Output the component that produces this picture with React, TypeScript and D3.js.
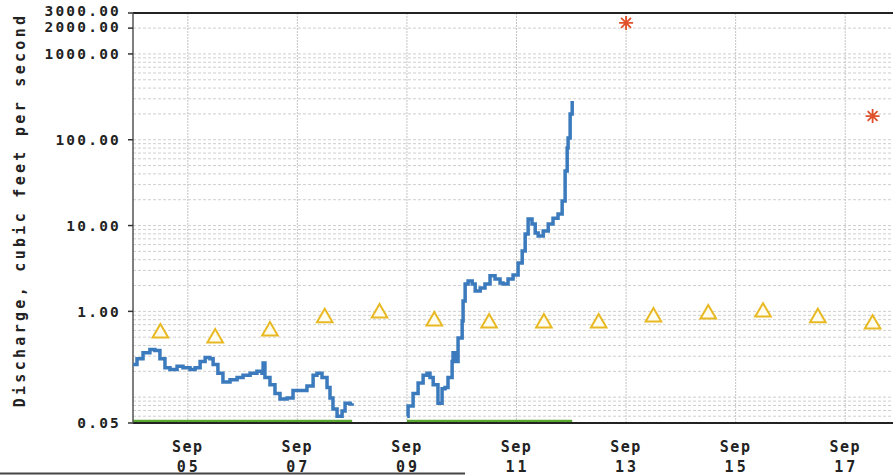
import React from "react";
import * as d3 from "d3";

// ---- data (hours since Sep 04 00:00) ----
const START = Date.UTC(2024, 8, 4);

const flowHours1 = [0, 1.75, 4.4, 7.4, 9.6, 11.8, 14, 16.2, 19.3, 21.9, 25, 27.2, 29.4, 31.6, 33.7, 35.1, 37.2, 39.4, 42.5, 45.6, 48.2, 51.3, 54.3, 56.5, 57, 57.8, 60, 62.2, 64.4, 67.5, 70.1, 73.2, 76.2, 78.9, 80.6, 82.8, 85, 86.3, 87.6, 89.4, 91.6, 92.9, 95.1, 96];
const flowValues1 = [0.24, 0.28, 0.33, 0.36, 0.35, 0.28, 0.22, 0.21, 0.23, 0.22, 0.21, 0.22, 0.26, 0.29, 0.28, 0.24, 0.19, 0.15, 0.16, 0.17, 0.18, 0.19, 0.2, 0.19, 0.25, 0.17, 0.14, 0.11, 0.095, 0.098, 0.12, 0.12, 0.135, 0.18, 0.19, 0.17, 0.13, 0.098, 0.073, 0.06, 0.069, 0.085, 0.083, 0.085];

const flowHours2 = [120.1, 120.5, 122.7, 124.9, 127.1, 128.8, 130.1, 131.5, 133.6, 135.4, 136.7, 138, 139.8, 140.2, 141.1, 142.4, 144.2, 144.6, 145.5, 146.8, 148.6, 149.9, 152.1, 154.2, 156.4, 158.6, 160.8, 162.1, 164.3, 166.5, 168.7, 170.5, 171.8, 173.1, 174.8, 176.2, 177.5, 179.7, 181.9, 184, 186.2, 188, 189.3, 190.2, 190.6, 191.5, 192.4];
const flowValues2 = [0.06, 0.079, 0.11, 0.146, 0.18, 0.19, 0.17, 0.14, 0.085, 0.125, 0.13, 0.17, 0.26, 0.33, 0.26, 0.49, 0.77, 1.32, 2.08, 2.26, 2.08, 1.73, 1.87, 2.08, 2.6, 2.38, 2.14, 2.08, 2.38, 2.65, 3.66, 5.05, 7.97, 11.9, 10.4, 8.19, 7.55, 8.64, 10.4, 12.2, 13.6, 19.3, 43.2, 80.1, 105, 200, 283];

const medianHours = [12, 36, 60, 84, 108, 132, 156, 180, 204, 228, 252, 276, 300, 324];
const medianValues = [0.56, 0.49, 0.59, 0.84, 0.96, 0.77, 0.73, 0.73, 0.73, 0.86, 0.93, 0.98, 0.84, 0.71];

const peakHours = [216, 324];
const peakValues = [2300, 189];

const approvedStart = [0, 120];
const approvedEnd = [96, 192.4];
const approvedLevel = 0.052;

const yTickValues = [0.05, 1, 10, 100, 1000, 2000, 3000];
const xTickDays = [5, 7, 9, 11, 13, 15, 17];

// ---- layout ----
const W = 893;
const H = 476;
const left = 133;
const top = 13;
const bottom = 423;
const right = 900;

const toDate = (h: number) => new Date(START + h * 3600e3);

export default function App() {
  const x = d3
    .scaleUtc()
    .domain([toDate(0), toDate(14 * 24)])
    .range([left, right]);
  const y = d3.scaleLog().domain([0.05, 3000]).range([bottom, top]);

  const line = d3
    .line<[number, number]>()
    .x((d) => x(toDate(d[0])))
    .y((d) => y(d[1]))
    .curve(d3.curveStepAfter);

  const seg1 = flowHours1.map((h, i) => [h, flowValues1[i]] as [number, number]);
  const seg2 = flowHours2.map((h, i) => [h, flowValues2[i]] as [number, number]);

  // minor log grid
  const grid: number[] = [];
  for (let e = -2; e <= 3; e++) {
    for (let m = 1; m <= 9; m++) {
      const v = m * Math.pow(10, e);
      if (v > 0.05 && v <= 3000) grid.push(v);
    }
  }

  const xTicks = xTickDays.map((d) => new Date(Date.UTC(2024, 8, d)));
  const fmtMon = d3.utcFormat("%b");
  const fmtDay = d3.utcFormat("%d");
  const fmtY = d3.format(".2f");

  const tri = d3.symbol(d3.symbolTriangle, 105)();

  const asterisk = (cx: number, cy: number, r: number) => {
    const p = d3.path();
    for (let k = 0; k < 4; k++) {
      const a = (k * Math.PI) / 4;
      p.moveTo(cx - r * Math.cos(a), cy - r * Math.sin(a));
      p.lineTo(cx + r * Math.cos(a), cy + r * Math.sin(a));
    }
    return p.toString();
  };

  const mono = "'DejaVu Sans Mono', monospace";
  // small nudges so the two crowded top labels do not collide
  const labelShift = (v: number) => (v === 3000 ? -2 : v === 2000 ? -1 : 0);

  return (
    <svg
      width={W}
      height={H}
      style={{ position: "absolute", left: 0, top: 0, background: "#fff" }}
    >
      <rect x={0} y={0} width={W} height={H} fill="#fff" />
      {/* horizontal grid */}
      {grid.map((v) => (
        <line
          key={"h" + v}
          x1={left}
          x2={right}
          y1={y(v)}
          y2={y(v)}
          stroke="#cfcfcf"
          strokeWidth={1}
          strokeDasharray="3,2"
        />
      ))}
      {/* vertical grid */}
      {xTicks.map((t) => (
        <line
          key={"v" + t.getTime()}
          x1={x(t)}
          x2={x(t)}
          y1={top}
          y2={bottom}
          stroke="#c4c4c4"
          strokeWidth={1}
          strokeDasharray="2,1"
        />
      ))}

      {/* approved bars */}
      {approvedStart.map((s, i) => (
        <line
          key={"g" + i}
          x1={x(toDate(s))}
          x2={x(toDate(approvedEnd[i]))}
          y1={y(approvedLevel)}
          y2={y(approvedLevel)}
          stroke="#5aa832"
          strokeWidth={3.5}
        />
      ))}

      {/* frame */}
      <line x1={left} x2={right} y1={top} y2={top} stroke="#222" strokeWidth={2} />
      <line x1={left} x2={right} y1={bottom} y2={bottom} stroke="#222" strokeWidth={2} />
      <line x1={left} x2={left} y1={top} y2={bottom} stroke="#555" strokeWidth={1.5} />

      {/* flow */}
      <path d={line(seg1) || ""} fill="none" stroke="#3b7bbd" strokeWidth={3.5} strokeLinejoin="miter" />
      <path d={line(seg2) || ""} fill="none" stroke="#3b7bbd" strokeWidth={3.5} strokeLinejoin="miter" />

      {/* medians */}
      {medianHours.map((h, i) => (
        <path
          key={"m" + h}
          d={tri || ""}
          transform={`translate(${x(toDate(h))},${y(medianValues[i])})`}
          fill="#fffdf0"
          stroke="#e8b923"
          strokeWidth={2}
        />
      ))}

      {/* peaks */}
      {peakHours.map((h, i) => (
        <path
          key={"p" + h}
          d={asterisk(x(toDate(h)), y(peakValues[i]), 7)}
          stroke="#e0502a"
          strokeWidth={1.8}
          fill="none"
        />
      ))}

      {/* y ticks */}
      {yTickValues.map((v) => (
        <g key={"yt" + v}>
          <line x1={left - 5} x2={left} y1={y(v)} y2={y(v)} stroke="#333" strokeWidth={1.5} />
          <text
            x={121}
            y={y(v) + labelShift(v)}
            dy="0.36em"
            textAnchor="end"
            fontFamily={mono}
            fontWeight="bold"
            fontSize={14.5}
            letterSpacing={2.2}
            fill="#222"
          >
            {fmtY(v)}
          </text>
        </g>
      ))}

      {/* x ticks */}
      {xTicks.map((t) => (
        <g key={"xt" + t.getTime()}>
          <text
            x={x(t)}
            y={452}
            textAnchor="middle"
            fontFamily={mono}
            fontWeight="bold"
            fontSize={15}
            letterSpacing={1.5}
            fill="#222"
          >
            {fmtMon(t)}
          </text>
          <text
            x={x(t) + 1}
            y={472}
            textAnchor="middle"
            fontFamily={mono}
            fontWeight="bold"
            fontSize={15}
            letterSpacing={3}
            fill="#222"
          >
            {fmtDay(t)}
          </text>
        </g>
      ))}

      {/* y title */}
      <text
        transform="translate(25,210) rotate(-90)"
        textAnchor="middle"
        fontFamily={mono}
        fontWeight="bold"
        fontSize={15}
        letterSpacing={3.3}
        fill="#222"
      >
        Discharge, cubic feet per second
      </text>

      {/* page edge */}
      <line x1={0} x2={465} y1={473.5} y2={473.5} stroke="#444" strokeWidth={2} />
    </svg>
  );
}
